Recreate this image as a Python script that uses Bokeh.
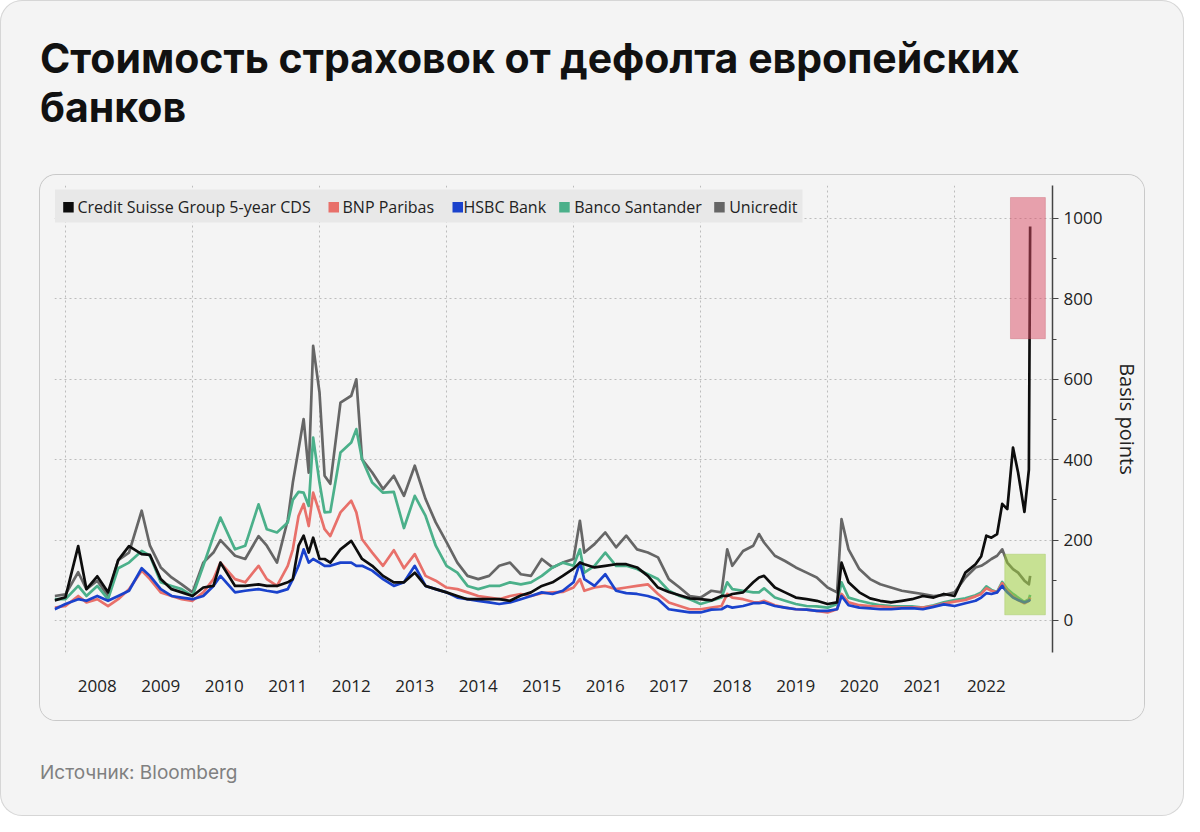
from bokeh.plotting import figure
from bokeh.layouts import column
from bokeh.models import (ColumnDataSource, BoxAnnotation, Label, Div,
                          FixedTicker, CustomJSTickFormatter, Range1d)
from bokeh.embed import file_html
from bokeh.resources import INLINE

# ---------------- data ----------------
DATES = [2007.83, 2008.0, 2008.2, 2008.33, 2008.5, 2008.67, 2008.83, 2009.0, 2009.2, 2009.33,
         2009.5, 2009.67, 2009.83, 2010.0, 2010.17, 2010.33, 2010.44, 2010.67, 2010.83, 2011.04,
         2011.17, 2011.33, 2011.5, 2011.58, 2011.67, 2011.75, 2011.83, 2011.9, 2012.0, 2012.08,
         2012.17, 2012.33, 2012.5, 2012.58, 2012.67, 2012.83, 2013.0, 2013.17, 2013.33, 2013.5,
         2013.67, 2013.83, 2014.0, 2014.17, 2014.33, 2014.5, 2014.67, 2014.83, 2015.0, 2015.17,
         2015.33, 2015.5, 2015.67, 2015.83, 2016.0, 2016.1, 2016.17, 2016.33, 2016.5, 2016.67,
         2016.83, 2017.0, 2017.17, 2017.33, 2017.5, 2017.67, 2017.83, 2018.0, 2018.17, 2018.33,
         2018.42, 2018.5, 2018.67, 2018.83, 2018.92, 2019.0, 2019.17, 2019.33, 2019.5, 2019.67,
         2019.83, 2020.0, 2020.15, 2020.22, 2020.33, 2020.5, 2020.67, 2020.83, 2021.0, 2021.17,
         2021.33, 2021.5, 2021.67, 2021.83, 2022.0, 2022.17, 2022.33, 2022.42, 2022.5, 2022.58,
         2022.67, 2022.75, 2022.83, 2022.92, 2023.0, 2023.1, 2023.17, 2023.19]

CREDIT_SUISSE = [50, 58, 185, 78, 110, 70, 150, 185, 165, 163,
                 103, 78, 70, 61, 82, 86, 144, 86, 86, 90,
                 86, 86, 95, 103, 186, 211, 169, 206, 153, 153,
                 144, 177, 198, 177, 153, 136, 111, 95, 95, 119,
                 86, 78, 70, 61, 53, 53, 53, 53, 49, 62,
                 70, 86, 95, 111, 129, 144, 140, 132, 136, 140,
                 140, 132, 111, 82, 71, 63, 55, 53, 50, 61,
                 61, 66, 70, 95, 107, 111, 82, 70, 57, 53,
                 49, 41, 45, 144, 95, 70, 55, 49, 45, 49,
                 53, 61, 57, 66, 61, 119, 140, 160, 211, 206,
                 215, 290, 277, 430, 368, 270, 375, 980]

BNP_PARIBAS = [32, 36, 61, 45, 53, 36, 53, 78, 124, 103,
               70, 61, 53, 49, 70, 103, 144, 103, 95, 136,
               103, 86, 136, 177, 260, 290, 235, 318, 269, 227,
               210, 269, 298, 269, 202, 169, 136, 175, 130, 165,
               111, 99, 82, 78, 70, 61, 57, 53, 61, 66,
               61, 68, 70, 71, 82, 103, 74, 82, 86, 78,
               82, 86, 90, 66, 45, 36, 28, 28, 32, 36,
               66, 57, 53, 46, 45, 49, 38, 32, 28, 27,
               24, 20, 28, 66, 45, 38, 36, 35, 33, 32,
               33, 32, 36, 42, 47, 51, 60, 66, 80, 74,
               70, 93, 74, 60, 51, 43, 49, 57]

HSBC = [28, 41, 53, 49, 61, 49, 61, 74, 130, 111,
        78, 61, 57, 53, 61, 86, 111, 70, 74, 78,
        74, 70, 78, 103, 136, 177, 144, 153, 144, 136,
        136, 144, 144, 136, 136, 124, 103, 86, 95, 136,
        86, 78, 70, 57, 53, 49, 45, 41, 45, 53,
        61, 70, 66, 74, 95, 144, 103, 86, 115, 74,
        68, 66, 61, 53, 28, 24, 20, 20, 27, 28,
        36, 32, 36, 43, 43, 45, 36, 32, 28, 27,
        24, 24, 28, 61, 38, 32, 30, 28, 28, 30,
        31, 28, 34, 40, 36, 43, 49, 57, 68, 66,
        70, 86, 70, 57, 51, 45, 49, 53]

SANTANDER = [53, 53, 86, 61, 86, 53, 130, 144, 173, 161,
             95, 86, 78, 61, 136, 210, 256, 177, 186, 289,
             227, 219, 244, 300, 320, 318, 285, 455, 343, 269,
             270, 418, 443, 476, 401, 343, 318, 320, 230, 310,
             260, 186, 136, 119, 86, 78, 86, 86, 95, 90,
             95, 111, 132, 144, 136, 177, 119, 136, 169, 136,
             136, 128, 115, 103, 74, 61, 53, 41, 49, 57,
             95, 78, 74, 70, 70, 80, 57, 49, 41, 36,
             35, 32, 41, 95, 57, 49, 43, 38, 36, 35,
             35, 32, 38, 45, 51, 55, 63, 70, 85, 76,
             71, 96, 78, 66, 57, 46, 53, 64]

UNICREDIT = [61, 65, 120, 78, 99, 61, 150, 169, 273, 186,
             132, 107, 90, 70, 144, 169, 200, 161, 153, 210,
             186, 144, 250, 343, 426, 501, 368, 683, 567, 360,
             340, 542, 559, 600, 401, 368, 327, 360, 310, 385,
             302, 244, 195, 144, 111, 103, 111, 136, 144, 115,
             111, 153, 132, 144, 153, 248, 169, 190, 219, 182,
             211, 177, 169, 157, 103, 82, 61, 57, 74, 70,
             177, 136, 173, 186, 215, 194, 161, 148, 132, 119,
             107, 82, 70, 252, 177, 128, 103, 90, 82, 74,
             70, 66, 61, 63, 70, 107, 132, 136, 144, 153,
             161, 177, 144, 128, 119, 99, 90, 111]

SERIES_NAMES = ["Credit Suisse Group 5-year CDS", "BNP Paribas", "HSBC Bank",
                "Banco Santander", "Unicredit"]
SERIES_KEYS = ["cs", "bnp", "hsbc", "san", "uni"]
SERIES_COLORS = ["#0d0d0d", "#e8706a", "#1a42cc", "#4bb08a", "#666666"]

YEARS = list(range(2008, 2023))          # x tick labels (centred in each year)
GRID_YEARS = list(range(2008, 2023, 2))  # vertical grid lines
Y_TICKS = [0, 200, 400, 600, 800, 1000]
Y_MINOR = [100, 300, 500, 700, 900]

TITLE_LINES = ["Стоимость страховок от дефолта европейских", "банков"]
SOURCE = "Источник: Bloomberg"
Y_LABEL = "Basis points"

# highlight boxes (data coordinates)
RED_BOX = dict(left=2022.88, right=2023.43, bottom=701, top=1052)
GREEN_BOX = dict(left=2022.79, right=2023.43, bottom=14, top=165)

# legend layout (screen px relative to the plot frame: x from left edge, y up from bottom)
LEGEND_BAND = dict(left=0.5, right=748, bottom=430, top=463)
LEGEND_SWATCH_X = [8.7, 274, 398, 504.7, 659.7]
LEGEND_TEXT_X = [23, 288, 409, 519.7, 674.7]

FONT = "Open Sans"
BG = "#f4f4f4"

# ---------------- chart figure (the inner card) ----------------
p = figure(width=1104, height=545, output_backend="svg", toolbar_location=None,
           title=None,
           x_range=Range1d(2007.827, 2023.542), y_range=Range1d(-79.6, 1082),
           y_axis_location="right",
           min_border_left=14, min_border_right=91, min_border_top=10, min_border_bottom=68,
           margin=(43, 0, 0, 40),
           styles={"border-radius": "16px", "box-shadow": "0 0 0 1px #c9c9c9",
                   "overflow": "hidden"})
p.border_fill_color = BG
p.background_fill_color = BG
p.outline_line_color = None

src = ColumnDataSource(dict(x=DATES, cs=CREDIT_SUISSE, bnp=BNP_PARIBAS, hsbc=HSBC,
                            san=SANTANDER, uni=UNICREDIT))

# draw order: Unicredit, Santander, BNP, HSBC, Credit Suisse on top
for key in ["uni", "san", "bnp", "hsbc", "cs"]:
    i = SERIES_KEYS.index(key)
    p.line("x", key, source=src, line_color=SERIES_COLORS[i], line_width=2.7,
           line_join="round")

# highlight boxes
p.add_layout(BoxAnnotation(**RED_BOX, fill_color="#d94c63", fill_alpha=0.5,
                           line_color="#c4485a", line_width=1, level="overlay"))
p.add_layout(BoxAnnotation(**GREEN_BOX, fill_color="#9acd32", fill_alpha=0.5,
                           line_color="#8ab83a", line_width=1, level="overlay"))

SCR = dict(left_units="screen", right_units="screen", top_units="screen", bottom_units="screen")

# legend band, swatches and labels
p.add_layout(BoxAnnotation(**LEGEND_BAND, **SCR, fill_color="#e8e8e8", fill_alpha=1,
                           line_alpha=0, level="annotation"))
for name, color, sx, tx in zip(SERIES_NAMES, SERIES_COLORS, LEGEND_SWATCH_X, LEGEND_TEXT_X):
    p.add_layout(BoxAnnotation(left=sx, right=sx + 10.5, bottom=440, top=450.5, **SCR,
                               fill_color=color, fill_alpha=1, line_alpha=0,
                               level="annotation"))
    p.add_layout(Label(x=tx, y=445.5, x_units="screen", y_units="screen", text=name,
                       text_font=FONT, text_font_size="16px", text_color="#222222",
                       text_baseline="middle", text_align="left"))

# axes
yax = p.yaxis[0]
yax.ticker = FixedTicker(ticks=Y_TICKS, minor_ticks=Y_MINOR)
yax.axis_label = Y_LABEL
yax.axis_label_text_font = FONT
yax.axis_label_text_font_size = "20px"
yax.axis_label_text_font_style = "normal"
yax.axis_label_text_color = "#222222"
yax.axis_label_standoff = 9
yax.major_label_text_font = FONT
yax.major_label_text_font_size = "17px"
yax.major_label_text_color = "#222222"
yax.major_label_standoff = 5
yax.axis_line_color = "#444444"
yax.axis_line_width = 1.5
yax.major_tick_line_color = "#444444"
yax.minor_tick_line_color = "#444444"
yax.major_tick_in = 0
yax.major_tick_out = 6
yax.minor_tick_in = 0
yax.minor_tick_out = 4

xax = p.xaxis[0]
xax.ticker = FixedTicker(ticks=[y + 0.5 for y in YEARS], minor_ticks=[])
xax.formatter = CustomJSTickFormatter(code="return String(Math.floor(tick));")
xax.axis_line_color = None
xax.major_tick_line_color = None
xax.minor_tick_line_color = None
xax.major_label_standoff = 21
xax.major_label_text_font = FONT
xax.major_label_text_font_size = "17px"
xax.major_label_text_color = "#222222"

p.xgrid.ticker = FixedTicker(ticks=GRID_YEARS)
for g in (p.xgrid[0], p.ygrid[0]):
    g.grid_line_color = "#bcbcbc"
    g.grid_line_dash = "2 3"
    g.grid_line_width = 1

# ---------------- title, source and the page card ----------------
title_div = Div(
    text=('<div style="font-family: Inter, sans-serif; font-weight: 700; font-size: 41px; '
          'line-height: 49px; color: #111111; white-space: nowrap;">'
          + "<br>".join(TITLE_LINES) + "</div>"),
    width=1104, height=98, margin=(34, 0, 0, 40))

source_div = Div(
    text=('<div style="font-family: Inter, sans-serif; font-size: 19px; line-height: 24px; '
          'color: #808080; white-space: nowrap;">' + SOURCE + "</div>"),
    width=1104, height=26, margin=(41, 0, 0, 40))

page = column(title_div, p, source_div, width=1184, height=816,
              styles={"background-color": BG, "border-radius": "22px",
                      "box-shadow": "inset 0 0 0 1px #d6d6d6"})

open("out.html", "w", encoding="utf-8").write(file_html(page, INLINE))
